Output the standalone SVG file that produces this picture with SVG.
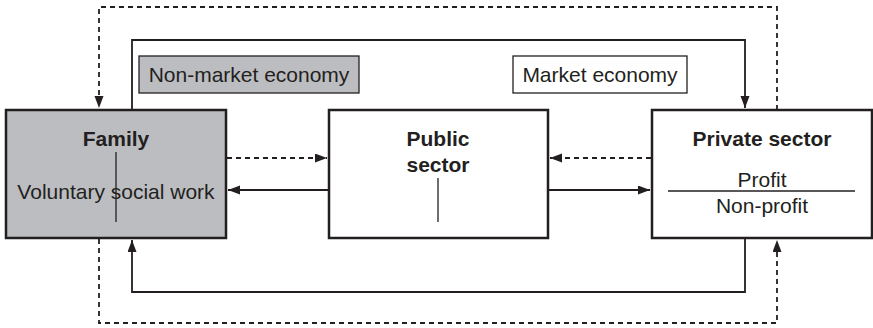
<svg xmlns="http://www.w3.org/2000/svg" width="873" height="328" viewBox="0 0 873 328">
<defs>
<style>
.box{stroke:#231f20;stroke-width:2.5}
.lbl{stroke:#231f20;stroke-width:1.3}
.t{font-family:"Liberation Sans",Arial,sans-serif;font-size:21px;fill:#231f20;text-anchor:middle}
.b{font-weight:bold}
.c{fill:none;stroke:#231f20;stroke-width:1.8}
.d{stroke-dasharray:5 4}
.thin{stroke:#231f20;stroke-width:1.3}
</style>
<marker id="ah" markerUnits="userSpaceOnUse" markerWidth="13" markerHeight="10" refX="12" refY="4.5" orient="auto">
<path d="M0,0 L12,4.5 L0,9 z" fill="#231f20"/>
</marker>
</defs>
<rect width="873" height="328" fill="#fff"/>
<g id="connectors">
<path class="c d" d="M777,110 V7 H99 V108" marker-end="url(#ah)"/>
<path class="c d" d="M99,239 V323 H777 V240" marker-end="url(#ah)"/>
<path class="c" d="M132,110 V40 H745 V108" marker-end="url(#ah)"/>
<path class="c" d="M745,238 V292 H132 V240" marker-end="url(#ah)"/>
<path class="c d" d="M227,158 H327" marker-end="url(#ah)"/>
<path class="c d" d="M651,158 H550" marker-end="url(#ah)"/>
<path class="c" d="M328,190 H228" marker-end="url(#ah)"/>
<path class="c" d="M549,190 H650" marker-end="url(#ah)"/>
</g>
<g id="non-market">
<rect class="lbl" x="139" y="56" width="220" height="37" fill="#bcbdc0"/>
<text class="t" x="249" y="82">Non-market economy</text>
</g>
<g id="market">
<rect class="lbl" x="513" y="56" width="174" height="37" fill="#fff"/>
<text class="t" x="600" y="82">Market economy</text>
</g>
<g id="family">
<rect class="box" x="6" y="110" width="220" height="128" fill="#bcbdc0"/>
<text class="t b" x="116" y="146">Family</text>
<line class="thin" x1="116" y1="152" x2="116" y2="222"/>
<text class="t" x="116" y="199">Voluntary social work</text>
</g>
<g id="public">
<rect class="box" x="329" y="110" width="219" height="128" fill="#fff"/>
<text class="t b" x="438" y="146">Public</text>
<text class="t b" x="438" y="172">sector</text>
<line class="thin" x1="438" y1="178" x2="438" y2="222"/>
</g>
<g id="private">
<rect class="box" x="652" y="110" width="220" height="128" fill="#fff"/>
<text class="t b" x="762" y="146">Private sector</text>
<text class="t" x="762" y="187">Profit</text>
<line class="thin" x1="668" y1="191" x2="855" y2="191"/>
<text class="t" x="762" y="213">Non-profit</text>
</g>
</svg>
